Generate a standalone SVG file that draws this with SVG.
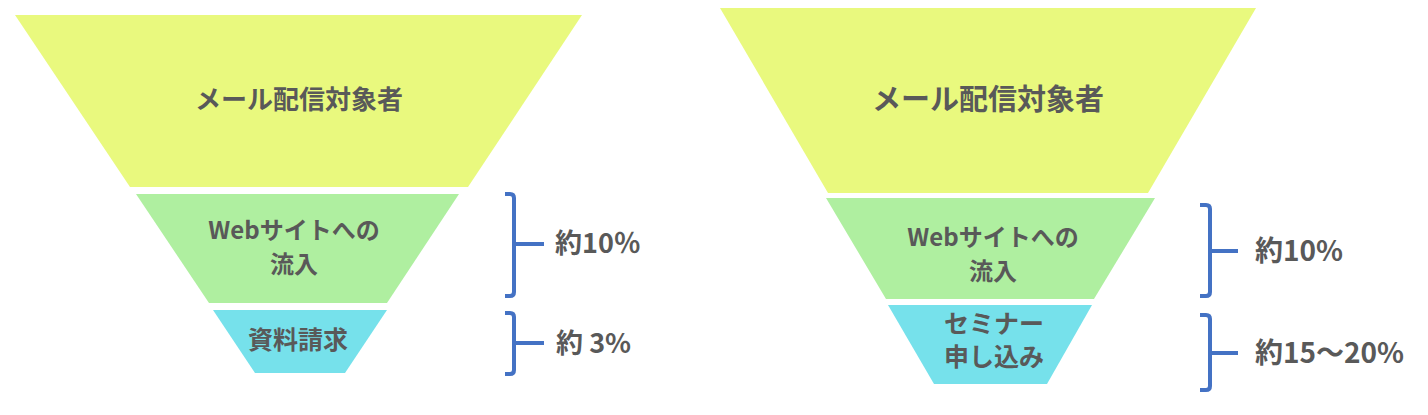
<svg xmlns="http://www.w3.org/2000/svg" width="1428" height="415" viewBox="0 0 1428 415">
<style>
.y{fill:#E9F97E}
.g{fill:#AFEFA0}
.c{fill:#76E1EB}
.t{font-family:"Noto Sans CJK JP","Noto Sans",sans-serif;font-weight:bold;fill:#595959;text-anchor:middle;dominant-baseline:central}
.l{font-family:"Noto Sans CJK JP","Noto Sans",sans-serif;font-weight:bold;fill:#595959;dominant-baseline:central}
.b{fill:none;stroke:#4472C4;stroke-width:4;stroke-linejoin:round}
</style>
<rect width="1428" height="415" fill="#fff"/>
<g id="left-top">
<polygon class="y" points="15,15 582,15 468,187 130,187"/>
<text class="t" x="299" y="97" font-size="26">メール配信対象者</text>
</g>
<g id="left-mid">
<polygon class="g" points="136,194 459,194 387,303 209,303"/>
<text class="t" x="294" y="228" font-size="24">Webサイトへの</text>
<text class="t" x="294" y="262" font-size="24">流入</text>
</g>
<g id="left-bot">
<polygon class="c" points="213,310 387,310 345,373 255,373"/>
<text class="t" x="298" y="338" font-size="25">資料請求</text>
</g>
<g id="right-top">
<polygon class="y" points="720,8 1256,8 1148,193 828,193"/>
<text class="t" x="988" y="97" font-size="29">メール配信対象者</text>
</g>
<g id="right-mid">
<polygon class="g" points="826,198 1155,198 1094,299 886,299"/>
<text class="t" x="993" y="235" font-size="24">Webサイトへの</text>
<text class="t" x="993" y="269" font-size="24">流入</text>
</g>
<g id="right-bot">
<polygon class="c" points="888,305 1092,305 1047,384 934,384"/>
<text class="t" x="994" y="322" font-size="25">セミナー</text>
<text class="t" x="994" y="355" font-size="25">申し込み</text>
</g>
<g id="connectors">
<path class="b" d="M505,194 H510 Q514,194 514,198 V292 Q514,296 510,296 H505 M514,244 H544"/>
<path class="b" d="M505,313 H510 Q514,313 514,317 V370 Q514,374 510,374 H505 M514,343 H544"/>
<path class="b" d="M1200,205 H1206 Q1210,205 1210,209 V292 Q1210,296 1206,296 H1200 M1210,251 H1238"/>
<path class="b" d="M1200,315 H1206 Q1210,315 1210,319 V386 Q1210,390 1206,390 H1200 M1210,353 H1238"/>
</g>
<g id="labels">
<text class="l" x="555" y="241" font-size="27">約10％</text>
<text class="l" x="556" y="341" font-size="27">約 3%</text>
<text class="l" x="1255" y="249" font-size="28">約10%</text>
<text class="l" x="1255" y="351" font-size="28">約15～20%</text>
</g>
</svg>
